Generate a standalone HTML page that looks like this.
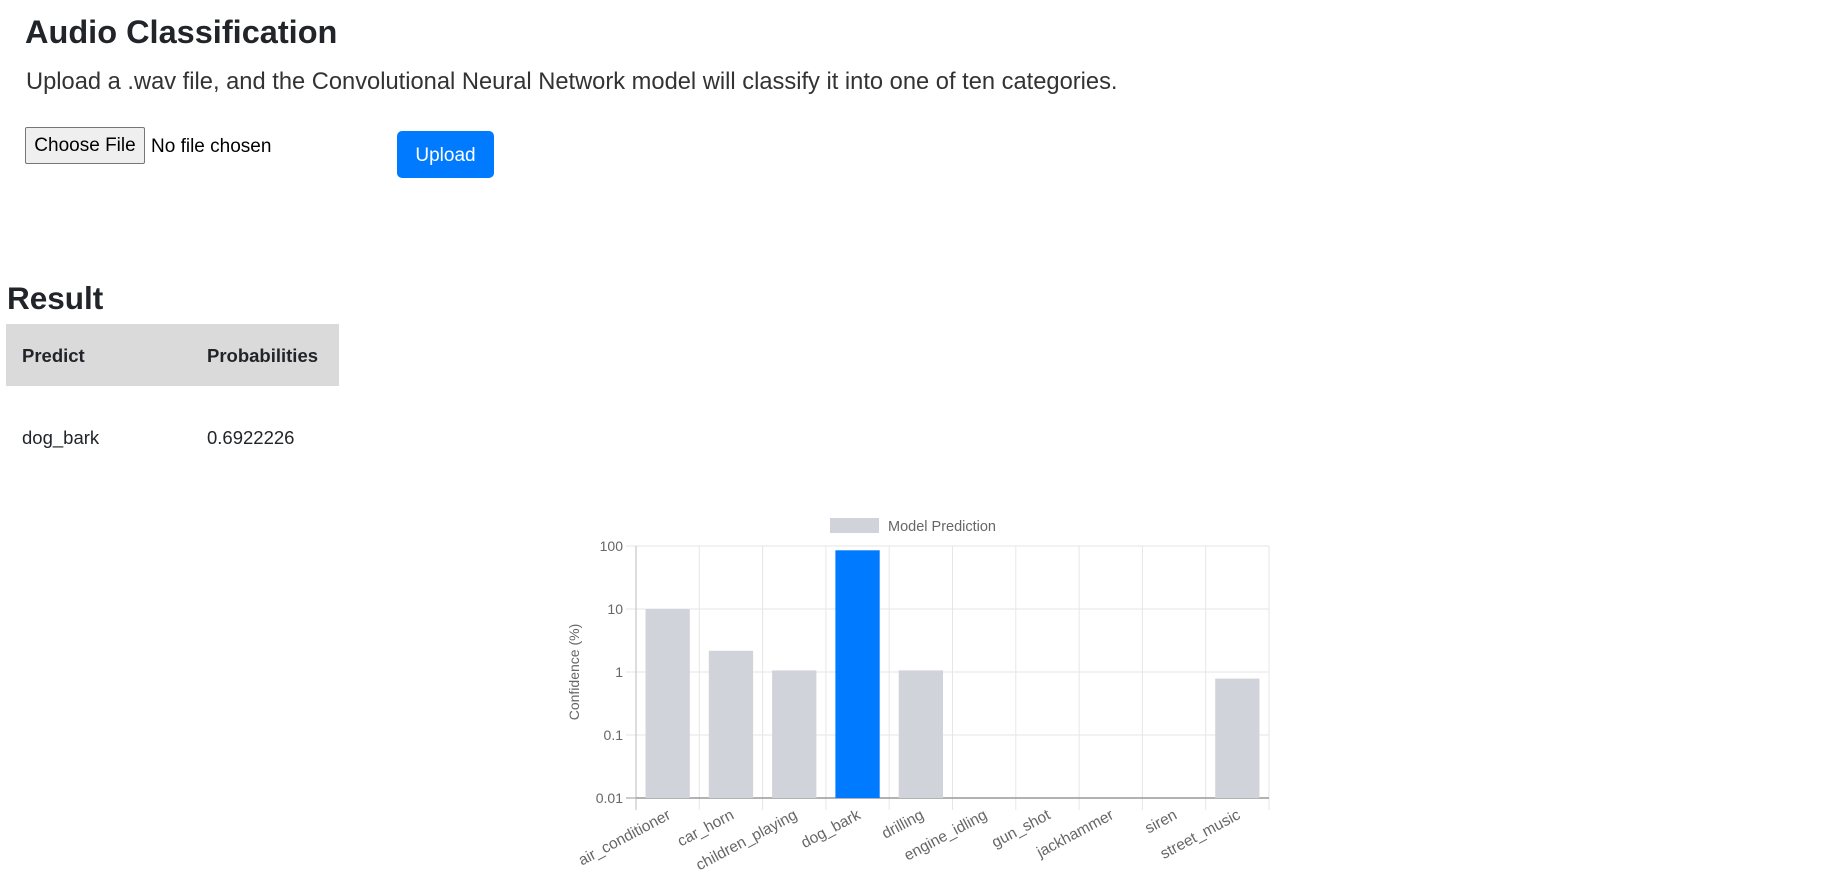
<!DOCTYPE html>
<html><head><meta charset="utf-8"><style>
body{margin:0;width:1828px;height:886px;background:#fff;font-family:"Liberation Sans",sans-serif;color:#212529;position:relative;overflow:hidden}
.abs{position:absolute;white-space:nowrap}
</style></head><body>
<div class="abs" style="left:25px;top:11px;font-size:32.5px;font-weight:bold;line-height:42px">Audio Classification</div>
<div class="abs" style="left:26px;top:67px;font-size:23.7px;line-height:30px;color:#333">Upload a .wav file, and the Convolutional Neural Network model will classify it into one of ten categories.</div>
<div class="abs" style="left:25px;top:127px;width:118px;height:35px;border:1px solid #767676;border-radius:2px;background:#efefef;font-size:19px;line-height:35px;text-align:center;color:#000">Choose File</div>
<div class="abs" style="left:151px;top:128px;font-size:19px;line-height:37px;color:#000">No file chosen</div>
<div class="abs" style="left:397px;top:131px;width:97px;height:47px;background:#007bff;border-radius:5px;color:#fff;font-size:19px;line-height:49px;text-align:center">Upload</div>
<div class="abs" style="left:7px;top:279px;font-size:31.5px;font-weight:bold;line-height:38px">Result</div>
<div class="abs" style="left:6px;top:324px;width:333px;height:62px;background:#dadada"></div>
<div class="abs" style="left:22px;top:345px;font-size:18.5px;font-weight:bold;line-height:22px">Predict</div>
<div class="abs" style="left:207px;top:345px;font-size:18.5px;font-weight:bold;line-height:22px">Probabilities</div>
<div class="abs" style="left:22px;top:427px;font-size:18.5px;line-height:22px">dog_bark</div>
<div class="abs" style="left:207px;top:427px;font-size:18.5px;line-height:22px">0.6922226</div>
<svg id="chart" class="abs" style="left:0;top:0" width="1828" height="886" font-family="Liberation Sans, sans-serif"></svg>
<script>
const categories=["air_conditioner","car_horn","children_playing","dog_bark","drilling","engine_idling","gun_shot","jackhammer","siren","street_music"];
const values=[10,2.17,1.06,85.5,1.06,0.005,0.005,0.005,0.005,0.785];
const colors=["#d0d4da","#d0d4da","#d0d4da","#007bff","#d0d4da","#d0d4da","#d0d4da","#d0d4da","#d0d4da","#d0d4da"];
const yTicks=[100,10,1,0.1,0.01];
const yTickLabels=["100","10","1","0.1","0.01"];
const NS="http://www.w3.org/2000/svg";
const svg=document.getElementById('chart');
const L=636,R=1269,T=546,B=798,yMin=0.01,yMax=100;
function y(v){v=Math.max(yMin,Math.min(yMax,v));return B-(Math.log10(v)-Math.log10(yMin))/(Math.log10(yMax)-Math.log10(yMin))*(B-T);}
const bw=(R-L)/categories.length;
function x(i){return L+bw*i;}
function mk(tag,attrs){const e=document.createElementNS(NS,tag);for(const k in attrs)e.setAttribute(k,attrs[k]);svg.appendChild(e);return e;}
yTicks.forEach((t,i)=>{
 const g=mk('line',{x1:L-10,x2:R,y1:y(t),y2:y(t),stroke:i===yTicks.length-1?'#999':'#e6e6e6','stroke-width':1});
 
 
 const tx=mk('text',{x:L-13,y:y(t)+5,'text-anchor':'end','font-size':14,fill:'#666'});
 tx.textContent=yTickLabels[i];
 
 
});
for(let i=0;i<=categories.length;i++){
 const g=mk('line',{x1:x(i),x2:x(i),y1:T,y2:B+12,stroke:i===0?'#bbb':'#e6e6e6','stroke-width':1});
 
 
}
mk('line',{x1:L,x2:R,y1:B,y2:B,stroke:'#999','stroke-width':1.5});
categories.forEach((c,i)=>{
 const w=bw*0.7, bx=x(i)+(bw-w)/2, top=y(values[i]);
 if(B-top>0.5){
  const r=mk('rect',{x:bx,y:top,width:w,height:B-top,fill:colors[i]});
  
  
 }
 const cx=x(i)+bw/2+4;
 const t=mk('text',{x:cx,y:818,'text-anchor':'end','font-size':15.5,fill:'#666',transform:`rotate(-28 ${cx} 818)`});
 t.textContent=c;
 
 
});
const yt=mk('text',{x:579,y:672,'text-anchor':'middle','font-size':14,fill:'#666',transform:'rotate(-90 579 672)'});
yt.textContent='Confidence (%)';


const lb=mk('rect',{x:830,y:518,width:49,height:15,fill:'#d0d4da'});


const lt=mk('text',{x:888,y:531,'font-size':14.5,fill:'#666'});
lt.textContent='Model Prediction';


</script>
</body></html>
